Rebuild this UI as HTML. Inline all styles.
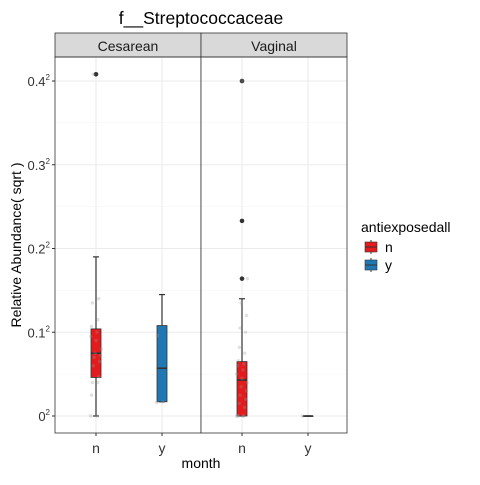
<!DOCTYPE html>
<html><head><meta charset="utf-8"><style>
body{margin:0;background:#fff;font-family:"Liberation Sans",sans-serif}
text{font-family:"Liberation Sans",sans-serif}
</style></head><body>
<svg width="480" height="480" xmlns="http://www.w3.org/2000/svg">
<text x="201" y="24" font-size="17.5" text-anchor="middle" fill="#000">f__Streptococcaceae</text>
<g id="panels"></g>
<text transform="translate(21,245) rotate(-90)" font-size="14" text-anchor="middle">Relative Abundance( sqrt )</text>
<text x="201" y="468" font-size="14" text-anchor="middle">month</text>
<g>
<text x="361" y="232" font-size="14">antiexposedall</text>
<g><line x1="371" y1="240" x2="371" y2="254" stroke="#333"/><rect x="365" y="242" width="12" height="10" fill="#e41a1c" stroke="#333" stroke-width="0.6"/><line x1="365" y1="247" x2="377" y2="247" stroke="#333"/><text x="385" y="252" font-size="14">n</text></g>
<g><line x1="371" y1="258" x2="371" y2="272" stroke="#333"/><rect x="365" y="260" width="12" height="10" fill="#1f78b4" stroke="#333" stroke-width="0.6"/><line x1="365" y1="265" x2="377" y2="265" stroke="#333"/><text x="385" y="270" font-size="14">y</text></g>
</g>
</svg>
<script>
const panels=["Cesarean","Vaginal"];
const groups=["n","y"];
const yTicks=[0,0.1,0.2,0.3,0.4];
const yTickLabels=["0","0.1","0.2","0.3","0.4"];
const lowerW=[[0,0.017],[0,0]];
const q1=[[0.046,0.017],[0,0]];
const med=[[0.075,0.057],[0.043,0]];
const q3=[[0.104,0.108],[0.065,0]];
const upperW=[[0.19,0.145],[0.14,0]];
const outliers=[[[0.408],[]],[[0.4,0.233,0.164],[]]];
const jitter=[[[0,0,0.025,0.04,0.04,0.047,0.06,0.065,0.07,0.072,0.075,0.08,0.09,0.095,0.1,0.107,0.115,0.135,0.14,0.408],[0.016,0.017,0.096]],
 [[0,0,0,0,0,0.01,0.015,0.02,0.025,0.03,0.035,0.04,0.045,0.05,0.055,0.06,0.062,0.066,0.075,0.082,0.1,0.105,0.12,0.135,0.164,0.4],[0]]];
const svg=document.querySelector('svg');const G=document.getElementById('panels');
const NS="http://www.w3.org/2000/svg";
function mk(t,a,p){const e=document.createElementNS(NS,t);for(const k in a)e.setAttribute(k,a[k]);(p||G).appendChild(e);return e;}
const plotTop=57,plotBot=433,y0=416,kScale=837.5;
function Y(v){return y0-v*kScale;}
const pL=[55,201],pW=146;
function X(p,g){return pL[p]+41+g*66;}
const fills=["#e41a1c","#1f78b4"];
panels.forEach((name,p)=>{
 const x0=pL[p];
 const g=mk('g',{});
 
 
 mk('rect',{x:x0,y:plotTop,width:pW,height:plotBot-plotTop,fill:'#fff'},g);
 yTicks.forEach((t,i)=>{
  mk('line',{x1:x0,x2:x0+pW,y1:Y(t),y2:Y(t),stroke:'#ebebeb','stroke-width':1.1},g);
  if(i<yTicks.length-1){const m=(t+yTicks[i+1])/2;mk('line',{x1:x0,x2:x0+pW,y1:Y(m),y2:Y(m),stroke:'#f3f3f3','stroke-width':0.6},g);}
 });
 groups.forEach((gr,gi)=>mk('line',{x1:X(p,gi),x2:X(p,gi),y1:plotTop,y2:plotBot,stroke:'#ebebeb','stroke-width':1.1},g));
 const s=mk('rect',{x:x0,y:33,width:pW,height:24,fill:'#d9d9d9',stroke:'#333','stroke-width':0.8},g);
 
 
 const st=mk('text',{x:x0+pW/2,y:51,'font-size':14,'text-anchor':'middle',fill:'#1a1a1a'},g);st.textContent=name;
 groups.forEach((gr,gi)=>{
  const cx=X(p,gi),hw=5;
  const b=mk('g',{},g);
  
  
  mk('line',{x1:cx,x2:cx,y1:Y(upperW[p][gi]),y2:Y(lowerW[p][gi]),stroke:'#333','stroke-width':1.2},b);
  mk('line',{x1:cx-3,x2:cx+3,y1:Y(upperW[p][gi]),y2:Y(upperW[p][gi]),stroke:'#333','stroke-width':1.2},b);
  mk('line',{x1:cx-3,x2:cx+3,y1:Y(lowerW[p][gi]),y2:Y(lowerW[p][gi]),stroke:'#333','stroke-width':1.2},b);
  mk('rect',{x:cx-hw,y:Y(q3[p][gi]),width:2*hw,height:Math.max(0.5,Y(q1[p][gi])-Y(q3[p][gi])),fill:fills[gi],stroke:'#333','stroke-width':0.8},b);
  mk('line',{x1:cx-hw,x2:cx+hw,y1:Y(med[p][gi]),y2:Y(med[p][gi]),stroke:'#333','stroke-width':1.6},b);
  outliers[p][gi].forEach(v=>{const c=mk('circle',{cx:cx,cy:Y(v),r:2.3,fill:'#333'},b);});
  jitter[p][gi].forEach((v,j)=>{const c=mk('circle',{cx:cx+((j*7)%13-6)*0.9,cy:Y(v),r:1.7,fill:'#999','fill-opacity':0.3},g);});
  mk('line',{x1:cx,x2:cx,y1:plotBot,y2:plotBot+3,stroke:'#333'},g);
  const tl=mk('text',{x:cx,y:453,'font-size':14,'text-anchor':'middle',fill:'#333'},g);tl.textContent=gr;
  
 });
 mk('rect',{x:x0,y:plotTop,width:pW,height:plotBot-plotTop,fill:'none',stroke:'#333','stroke-width':0.8},g);
});
yTicks.forEach((t,i)=>{
 mk('line',{x1:52,x2:55,y1:Y(t),y2:Y(t),stroke:'#333'});
 const tx=mk('text',{x:50,y:Y(t)+5,'font-size':13,'text-anchor':'end',fill:'#333'});
 
 tx.textContent=yTickLabels[i];
 const sp=mk('tspan',{'font-size':8,dy:-6},tx);sp.textContent='2';
});
</script>
</body></html>
